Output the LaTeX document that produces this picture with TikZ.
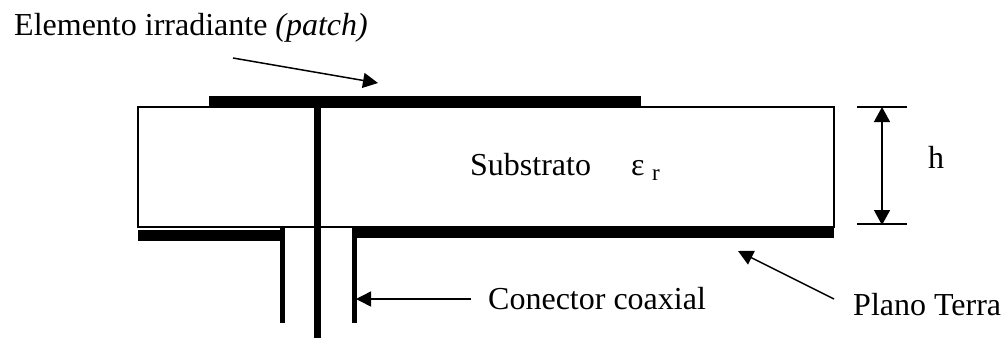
\documentclass[tikz,border=0pt]{standalone}
\usepackage{fontspec}
\setmainfont{Liberation Serif}
\usetikzlibrary{arrows.meta}
\tikzset{
 bar/.style={fill=black,draw=none},
 thin line/.style={line width=1.5pt},
 label text/.style={inner sep=0pt,anchor=base west,font=\fontsize{32}{34}\selectfont},
 pointer/.style={line width=1.5pt,-{Stealth[inset=0pt,length=15pt,width=15pt]}}
}
\begin{document}
\begin{tikzpicture}[x=1pt,y=-1pt]
\useasboundingbox (0,0) rectangle (1008,338);
\node[label text] (t1) at (14,35) {Elemento irradiante \textit{(patch)}};
\node[label text] (t2) at (470,175) {Substrato};
\node[label text] (t3) at (631,175) {ε};
\node[label text,font=\fontsize{23}{25}\selectfont] (t3b) at (652,180) {r};
\node[label text] (t4) at (928,168) {h};
\node[label text] (t5) at (488,309) {Conector coaxial};
\node[label text] (t6) at (853,315) {Plano Terra};
\draw[thin line] (138,107) rectangle (834,227);
\fill[bar] (209,96) rectangle (641,108);
\fill[bar] (138,230) rectangle (285,241);
\fill[bar] (352,228) rectangle (834,238);
\fill[bar] (280,228) rectangle (285,323);
\fill[bar] (352,228) rectangle (357,323);
\fill[bar] (314,107) rectangle (321,338);
\coordinate (tickA) at (857,107);
\coordinate (tickAe) at (907,107);
\coordinate (tickB) at (857,224);
\coordinate (tickBe) at (907,224);
\draw[thin line] (tickA) -- (tickAe);
\draw[thin line] (tickB) -- (tickBe);
\coordinate (hA) at (882,107);
\coordinate (hB) at (882,225);
\draw[line width=1.5pt,{Stealth[inset=0pt,length=15pt,width=16pt]}-{Stealth[inset=0pt,length=15pt,width=16pt]}] (hA) -- (hB);
\coordinate (a1) at (233,58);
\coordinate (a1e) at (378,83);
\draw[pointer] (a1) -- (a1e);
\coordinate (a2) at (471,299);
\coordinate (a2e) at (356,299);
\draw[pointer] (a2) -- (a2e);
\coordinate (a3) at (834,299);
\coordinate (a3e) at (738,251);
\draw[pointer] (a3) -- (a3e);
\end{tikzpicture}
\end{document}
